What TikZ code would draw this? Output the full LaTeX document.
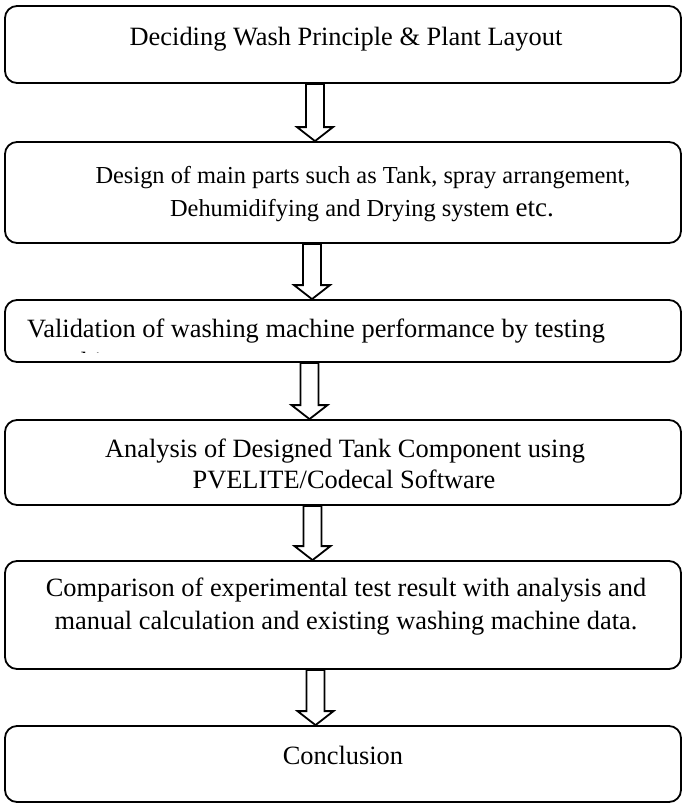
\documentclass[tikz,border=0pt]{standalone}
\usepackage{fontspec}
\setmainfont{Liberation Serif}
\usetikzlibrary{calc}
\tikzset{
  box/.style={draw, line width=1.8pt, rounded corners=12pt, minimum width=676pt, inner sep=0pt, fill=white},
  txt/.style={anchor=base, inner sep=0pt, font=\fontsize{26.4}{32}\selectfont},
  txts/.style={anchor=base, inner sep=0pt, font=\fontsize{24.4}{32}\selectfont},
  txtl/.style={anchor=base west, inner sep=0pt, font=\fontsize{26.4}{32}\selectfont},
  blk/.style={draw, line width=1.8pt, line join=miter, fill=white},
}
\newcommand\blockarrow[3]{%
  \coordinate (ax) at (#1,0);
  \draw[blk] let \p1=(ax |- #2.south), \p2=(ax |- #3.north) in
    (\x1-9pt,\y1) -- (\x1+9pt,\y1) -- (\x1+9pt,\y2+14pt) -- (\x1+18pt,\y2+14pt)
    -- (\x2,\y2) -- (\x1-18pt,\y2+14pt) -- (\x1-9pt,\y2+14pt) -- cycle;
}
\begin{document}
\begin{tikzpicture}[x=1pt,y=-1pt]
\useasboundingbox (0,0) rectangle (686,804);
\fill[white] (0,0) rectangle (686,804);

% boxes
\node[box, minimum height=77pt]  (b1) at (343,44.5) {};
\node[box, minimum height=101pt] (b2) at (343,192.5) {};
\node[box, minimum height=62pt]  (b3) at (343,331) {};
\node[box, minimum height=85pt]  (b4) at (343,462.5) {};
\node[box, minimum height=108pt] (b5) at (343,615) {};
\node[box, minimum height=76pt]  (b6) at (343,764) {};

% texts
\node[txt] (t1) at (346,45) {Deciding Wash Principle \& Plant Layout};
\node[txts] (t2a) at (363,183) {Design of main parts such as Tank, spray arrangement,};
\node[txts] (t2b) at (362,216) {Dehumidifying and Drying system {\fontsize{27}{32}\selectfont etc.}};
\node[txtl] (t3) at (27,337) {Validation of washing machine performance by testing};
\begin{scope}
  \clip (6,301) rectangle (680,352);
  \node[txtl] (t3b) at (37,370) {machine};
\end{scope}
\node[txt] (t4a) at (345,457) {Analysis of Designed Tank Component using};
\node[txt] (t4b) at (344,488) {PVELITE/Codecal Software};
\node[txt] (t5a) at (346,596) {Comparison of experimental test result with analysis and};
\node[txt] (t5b) at (346,629) {manual calculation and existing washing machine data.};
\node[txt] (t6) at (343,764) {Conclusion};

% block arrows
\blockarrow{315}{b1}{b2}
\blockarrow{312}{b2}{b3}
\blockarrow{309.5}{b3}{b4}
\blockarrow{312.5}{b4}{b5}
\blockarrow{315.5}{b5}{b6}
\end{tikzpicture}
\end{document}
